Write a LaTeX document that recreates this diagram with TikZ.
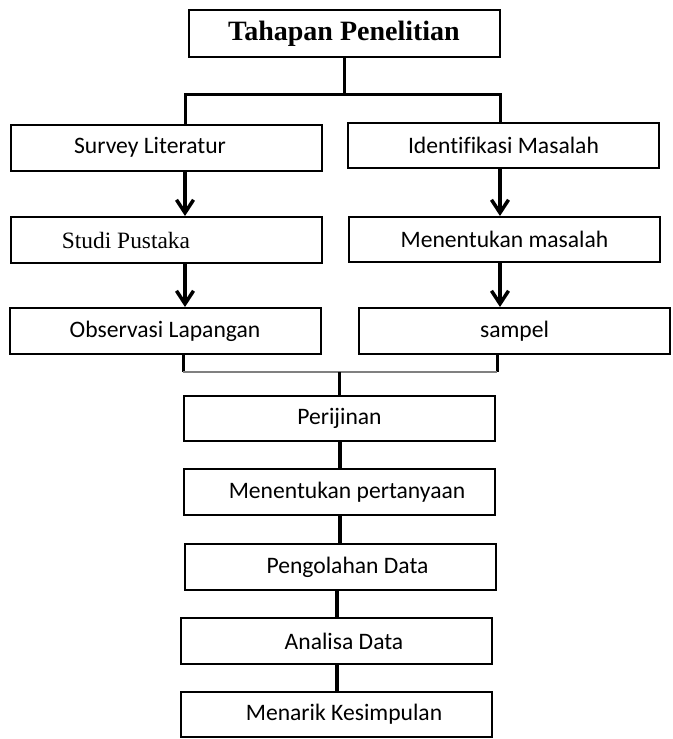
\documentclass[tikz,border=0pt]{standalone}
\usepackage{fontspec}
\setmainfont{Carlito}[Ligatures=NoCommon]
\newfontfamily\titlefont{Liberation Serif}
\usetikzlibrary{arrows.meta}

\tikzset{
  box/.style={draw, line width=1pt, minimum width=155.5pt, minimum height=23pt,
    inner sep=0pt, font=\fontsize{11.8}{14}\selectfont},
  link/.style={line width=1.5pt},
  arr/.style={line width=1.75pt, -{Straight Barb[length=6.5pt,width=8.5pt]}},
  trunk/.style={line width=2pt},
}

\begin{document}
\begin{tikzpicture}[x=0.5pt,y=-0.5pt]
\useasboundingbox (0,0) rectangle (673,739);
%title
\node[box, minimum height=23.5pt, font=\titlefont\bfseries\fontsize{14}{16}\selectfont] (tahapan) at (344,33.5) {Tahapan Penelitian};

%two branches
\node[box] (survey) at (166,147.5) {\hspace*{-16pt}Survey Literatur};
\node[box, minimum height=22.5pt] (ident) at (503.5,145.5) {Identifikasi Masalah};
\node[box, font=\titlefont\fontsize{11.7}{14}\selectfont] (studi) at (166,240) {\hspace*{-40pt}Studi Pustaka};
\node[box, minimum height=22.5pt] (masalah) at (504.5,239.5) {Menentukan masalah};
\node[box] (observasi) at (165,331) {Observasi Lapangan};
\node[box] (sampel) at (514.5,331) {sampel};

%main column
\node[box, minimum height=22.5pt] (perijinan) at (339.5,418.5) {Perijinan};
\node[box] (pertanyaan) at (339.5,492) {\hspace*{7.5pt}Menentukan pertanyaan};
\node[box] (pengolahan) at (340,567) {\hspace*{7.5pt}Pengolahan Data};
\node[box] (analisa) at (336.5,641) {\hspace*{7.5pt}Analisa Data};
\node[box, minimum height=22.5pt] (menarik) at (336.5,714.5) {\hspace*{7.5pt}Menarik Kesimpulan};

%split under the title
\coordinate (splitL) at (185,94);
\coordinate (splitR) at (500,94);
\draw[link] (tahapan.south) -- (tahapan.south |- splitL);
\draw[link] (survey.north -| splitL) -- (splitL) -- (splitR) -- (ident.north -| splitR);

%arrows down each branch
\draw[arr] (survey.south -| splitL) -- (studi.north -| splitL);
\draw[arr] (studi.south -| splitL) -- (observasi.north -| splitL);
\draw[arr] (ident.south -| splitR) -- (masalah.north -| splitR);
\draw[arr] (masalah.south -| splitR) -- (sampel.north -| splitR);

%merge
\coordinate (mergeL) at (183,372);
\coordinate (mergeR) at (497,372);
\draw[link] (observasi.south -| mergeL) -- (mergeL);
\draw[link] (sampel.south -| mergeR) -- (mergeR);
\draw[gray, line width=0.7pt] (mergeL) -- (mergeR);
\draw[link] (perijinan.north |- mergeL) -- (perijinan.north);

\foreach \a/\b in {perijinan/pertanyaan, pertanyaan/pengolahan, pengolahan/analisa, analisa/menarik}
  \draw[trunk] (\b.north |- \a.south) -- (\b.north);
\end{tikzpicture}
\end{document}
